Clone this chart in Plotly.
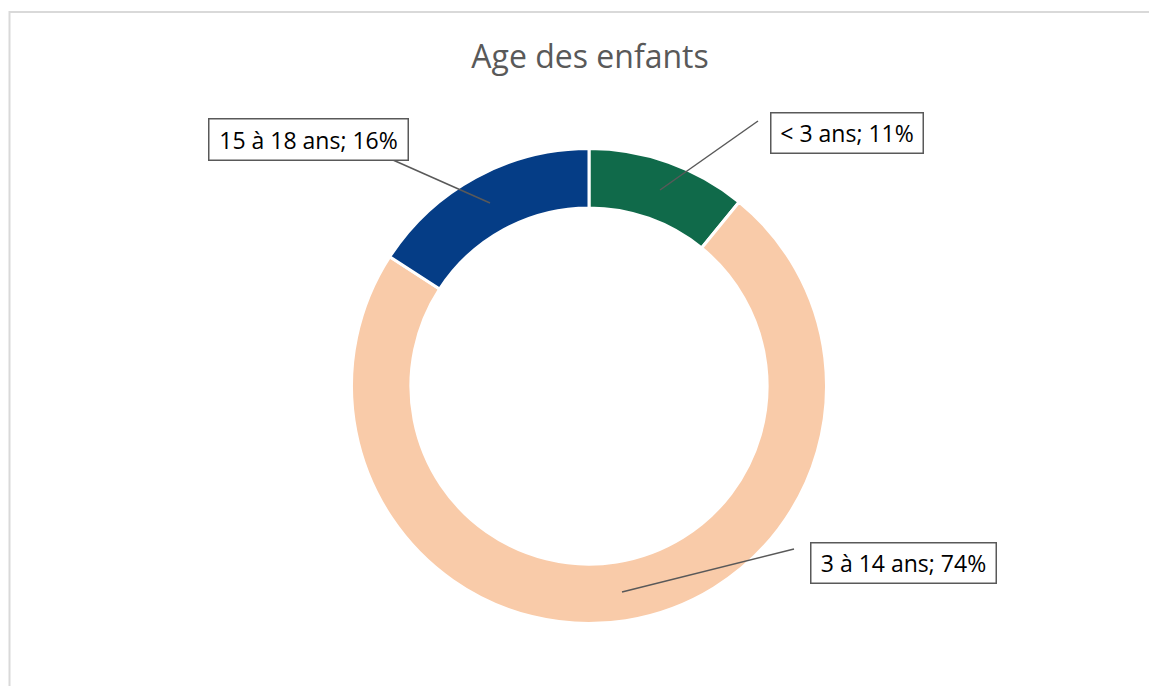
"""Donut chart: age des enfants, with boxed callout labels."""

import plotly.graph_objects as go

# ---- data ----
categories = ["< 3 ans", "3 à 14 ans", "15 à 18 ans"]
percentages = [11, 74, 16]
colours = ["#106A4A", "#F9CBA9", "#053D86"]

# The page puts the figure 8 px in from the window's top-left corner.
OFF = 8
W, H = 1157 - OFF, 686 - OFF
GREY = "#595959"
FONT = "Open Sans"


def px(x):
    return (x - OFF) / W


def py(y):
    return 1 - (y - OFF) / H


labels = [f"{c}; {p}%" for c, p in zip(categories, percentages)]

# Donut geometry (window pixels): centre and outer radius.
cx, cy, r_out = 589, 386, 237.5

fig = go.Figure(
    go.Pie(
        labels=categories,
        values=percentages,
        marker=dict(colors=colours, line=dict(color="white", width=3)),
        hole=0.75,
        sort=False,
        direction="clockwise",
        rotation=0,
        textinfo="none",
        hoverinfo="label+percent",
        showlegend=False,
        domain=dict(
            x=[px(cx - r_out), px(cx + r_out)],
            y=[py(cy + r_out), py(cy - r_out)],
        ),
    )
)

# Callout boxes: (centre x, centre y, box width, box height) and leader line
# (from x, from y, to x, to y), in window pixels, one per category.
callouts = [
    ((846.5, 133.5, 153, 41), (758, 121, 660, 190)),
    ((903, 562.5, 186, 41), (794, 549, 622, 592)),
    ((308, 139, 200, 42), (393, 160, 490, 203)),
]

shapes = [
    # light chart-area border (left and top edges visible)
    dict(
        type="rect", xref="paper", yref="paper",
        x0=px(9.5), x1=1.02, y0=-0.02, y1=py(12),
        line=dict(color="#D9D9D9", width=2),
    )
]
annotations = []
for text, (box, line) in zip(labels, callouts):
    bx, by, bw, bh = box
    x0, y0, x1, y1 = line
    shapes.append(
        dict(
            type="line", xref="paper", yref="paper",
            x0=px(x0), y0=py(y0), x1=px(x1), y1=py(y1),
            line=dict(color=GREY, width=1.5),
        )
    )
    annotations.append(
        dict(
            text=text, xref="paper", yref="paper",
            x=px(bx), y=py(by), xanchor="center", yanchor="middle",
            showarrow=False,
            font=dict(family=FONT, size=23, color="black"),
            bgcolor="white", bordercolor=GREY, borderwidth=1.5,
            borderpad=2, width=bw - 6, height=bh - 6,
        )
    )

fig.update_layout(
    width=W,
    height=H,
    margin=dict(l=0, r=0, t=0, b=0),
    paper_bgcolor="white",
    title=dict(
        text="Age des enfants",
        x=px(590), y=py(57), xanchor="center", yanchor="middle",
        font=dict(family=FONT, size=32, color=GREY),
    ),
    shapes=shapes,
    annotations=annotations,
)

fig.write_html("out.html")
